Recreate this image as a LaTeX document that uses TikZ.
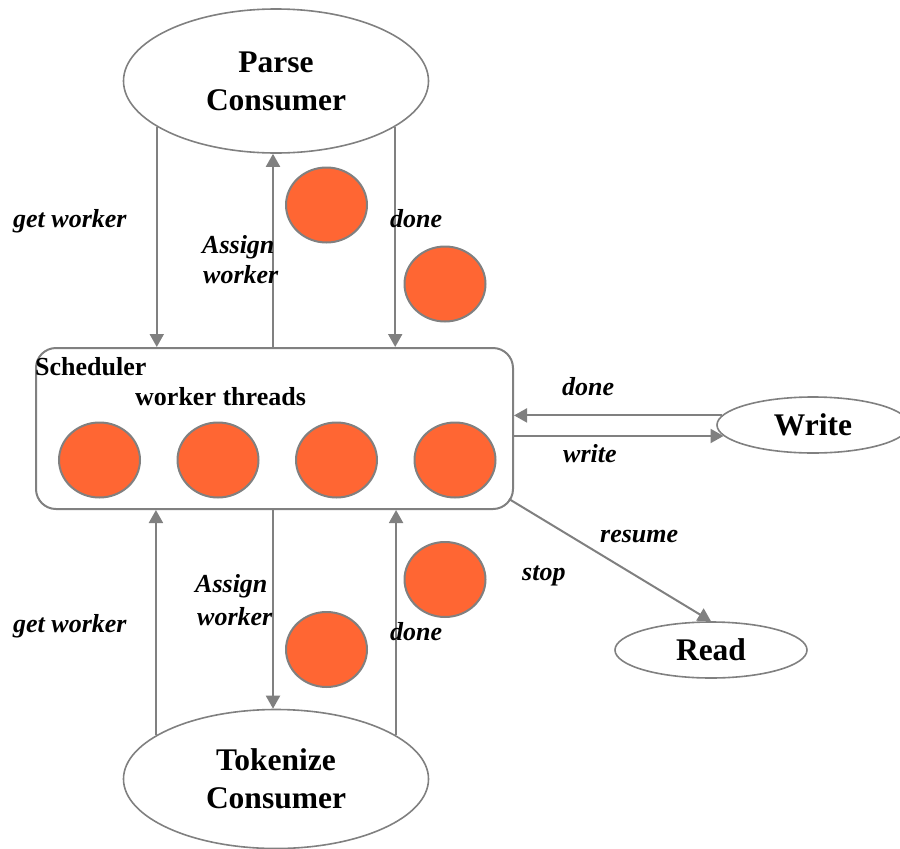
\documentclass[tikz,border=0pt]{standalone}
\usepackage{fontspec}
\setmainfont{Liberation Serif}
\usetikzlibrary{arrows.meta,shapes.geometric}
\definecolor{lineGray}{RGB}{128,128,128}
\definecolor{workerOrange}{RGB}{255,102,51}

\begin{document}
\begin{tikzpicture}[x=1pt,y=-1pt,
  flow/.style={draw=lineGray, line width=2pt, -{Triangle[width=14pt,length=13pt]}},
  consumer/.style={ellipse, draw=lineGray, line width=1.6pt, inner sep=0pt,
    align=center, font=\fontsize{31.5}{38}\selectfont\bfseries},
  worker/.style={ellipse, draw=lineGray, line width=2pt, fill=workerOrange,
    minimum width=81pt, minimum height=75pt, inner sep=0pt},
  lab/.style={inner sep=0pt, anchor=base west,
    font=\fontsize{26}{30}\selectfont\bfseries\itshape},
  title/.style={inner sep=0pt, anchor=base west,
    font=\fontsize{26}{30}\selectfont\bfseries},
]
\clip (0,0) rectangle (900,849);

% consumers and I/O stages
\node[consumer, minimum width=305pt, minimum height=144pt] (parse) at (276,81) {Parse\\Consumer};
\node[consumer, minimum width=305pt, minimum height=139pt] (tokenize) at (276,779) {Tokenize\\Consumer};
\node[consumer, minimum width=192pt, minimum height=56pt] (write) at (813,425) {Write};
\node[consumer, minimum width=192pt, minimum height=56pt] (read) at (711,650) {Read};

% scheduler with its pool of worker threads
\node[draw=lineGray, line width=2pt, rounded corners=20pt, minimum width=477pt,
  minimum height=161pt, inner sep=0pt] (sched) at (274.5,428.5) {};
\node[title] (schedT) at (35,375) {Scheduler};
\node[title] (poolT) at (135,405) {worker threads};
\node[worker] (w1) at (99.5,460) {};
\node[worker] (w2) at (218,460) {};
\node[worker] (w3) at (336.5,460) {};
\node[worker] (w4) at (455,460) {};

% workers in transit
\node[worker] (pa) at (326.5,205) {};
\node[worker] (pd) at (445,284) {};
\node[worker] (ta) at (326.5,649.5) {};
\node[worker] (td) at (445,579.5) {};

% parse consumer <-> scheduler
\coordinate (pm) at ([xshift=-3pt]parse.south);
\draw[flow] (parse.201) -- (parse.201 |- sched.north);
\draw[flow] (pm |- sched.north) -- (pm);
\draw[flow] (parse.339) -- (parse.339 |- sched.north);

% tokenize consumer <-> scheduler
\coordinate (tm) at ([xshift=-3pt]tokenize.north);
\draw[flow] (tokenize.160) -- (tokenize.160 |- sched.south);
\draw[flow] (tm |- sched.south) -- (tm);
\draw[flow] (tokenize.20) -- (tokenize.20 |- sched.south);

% write stage
\draw[flow] (write.174) -- (write.174 -| sched.east);
\draw[flow] (write.187 -| sched.east) -- (write.187);

% read stage
\coordinate (sc) at ([xshift=-5pt,yshift=11pt]sched.south east);
\draw[flow] (sc) -- (read.north);

% labels
\node[lab] (l1) at (13,227) {get worker};
\node[lab] (l2a) at (202,253) {Assign};
\node[lab] (l2b) at (203,283) {worker};
\node[lab] (l3) at (390,227) {done};
\node[lab] (l4) at (562,395) {done};
\node[lab] (l5) at (563,462) {write};
\node[lab] (l6) at (600,542) {resume};
\node[lab] (l7) at (522,580) {stop};
\node[lab] (l8) at (13,632) {get worker};
\node[lab] (l9a) at (195,592) {Assign};
\node[lab] (l9b) at (197,625) {worker};
\node[lab] (l10) at (390,640) {done};
\end{tikzpicture}
\end{document}
